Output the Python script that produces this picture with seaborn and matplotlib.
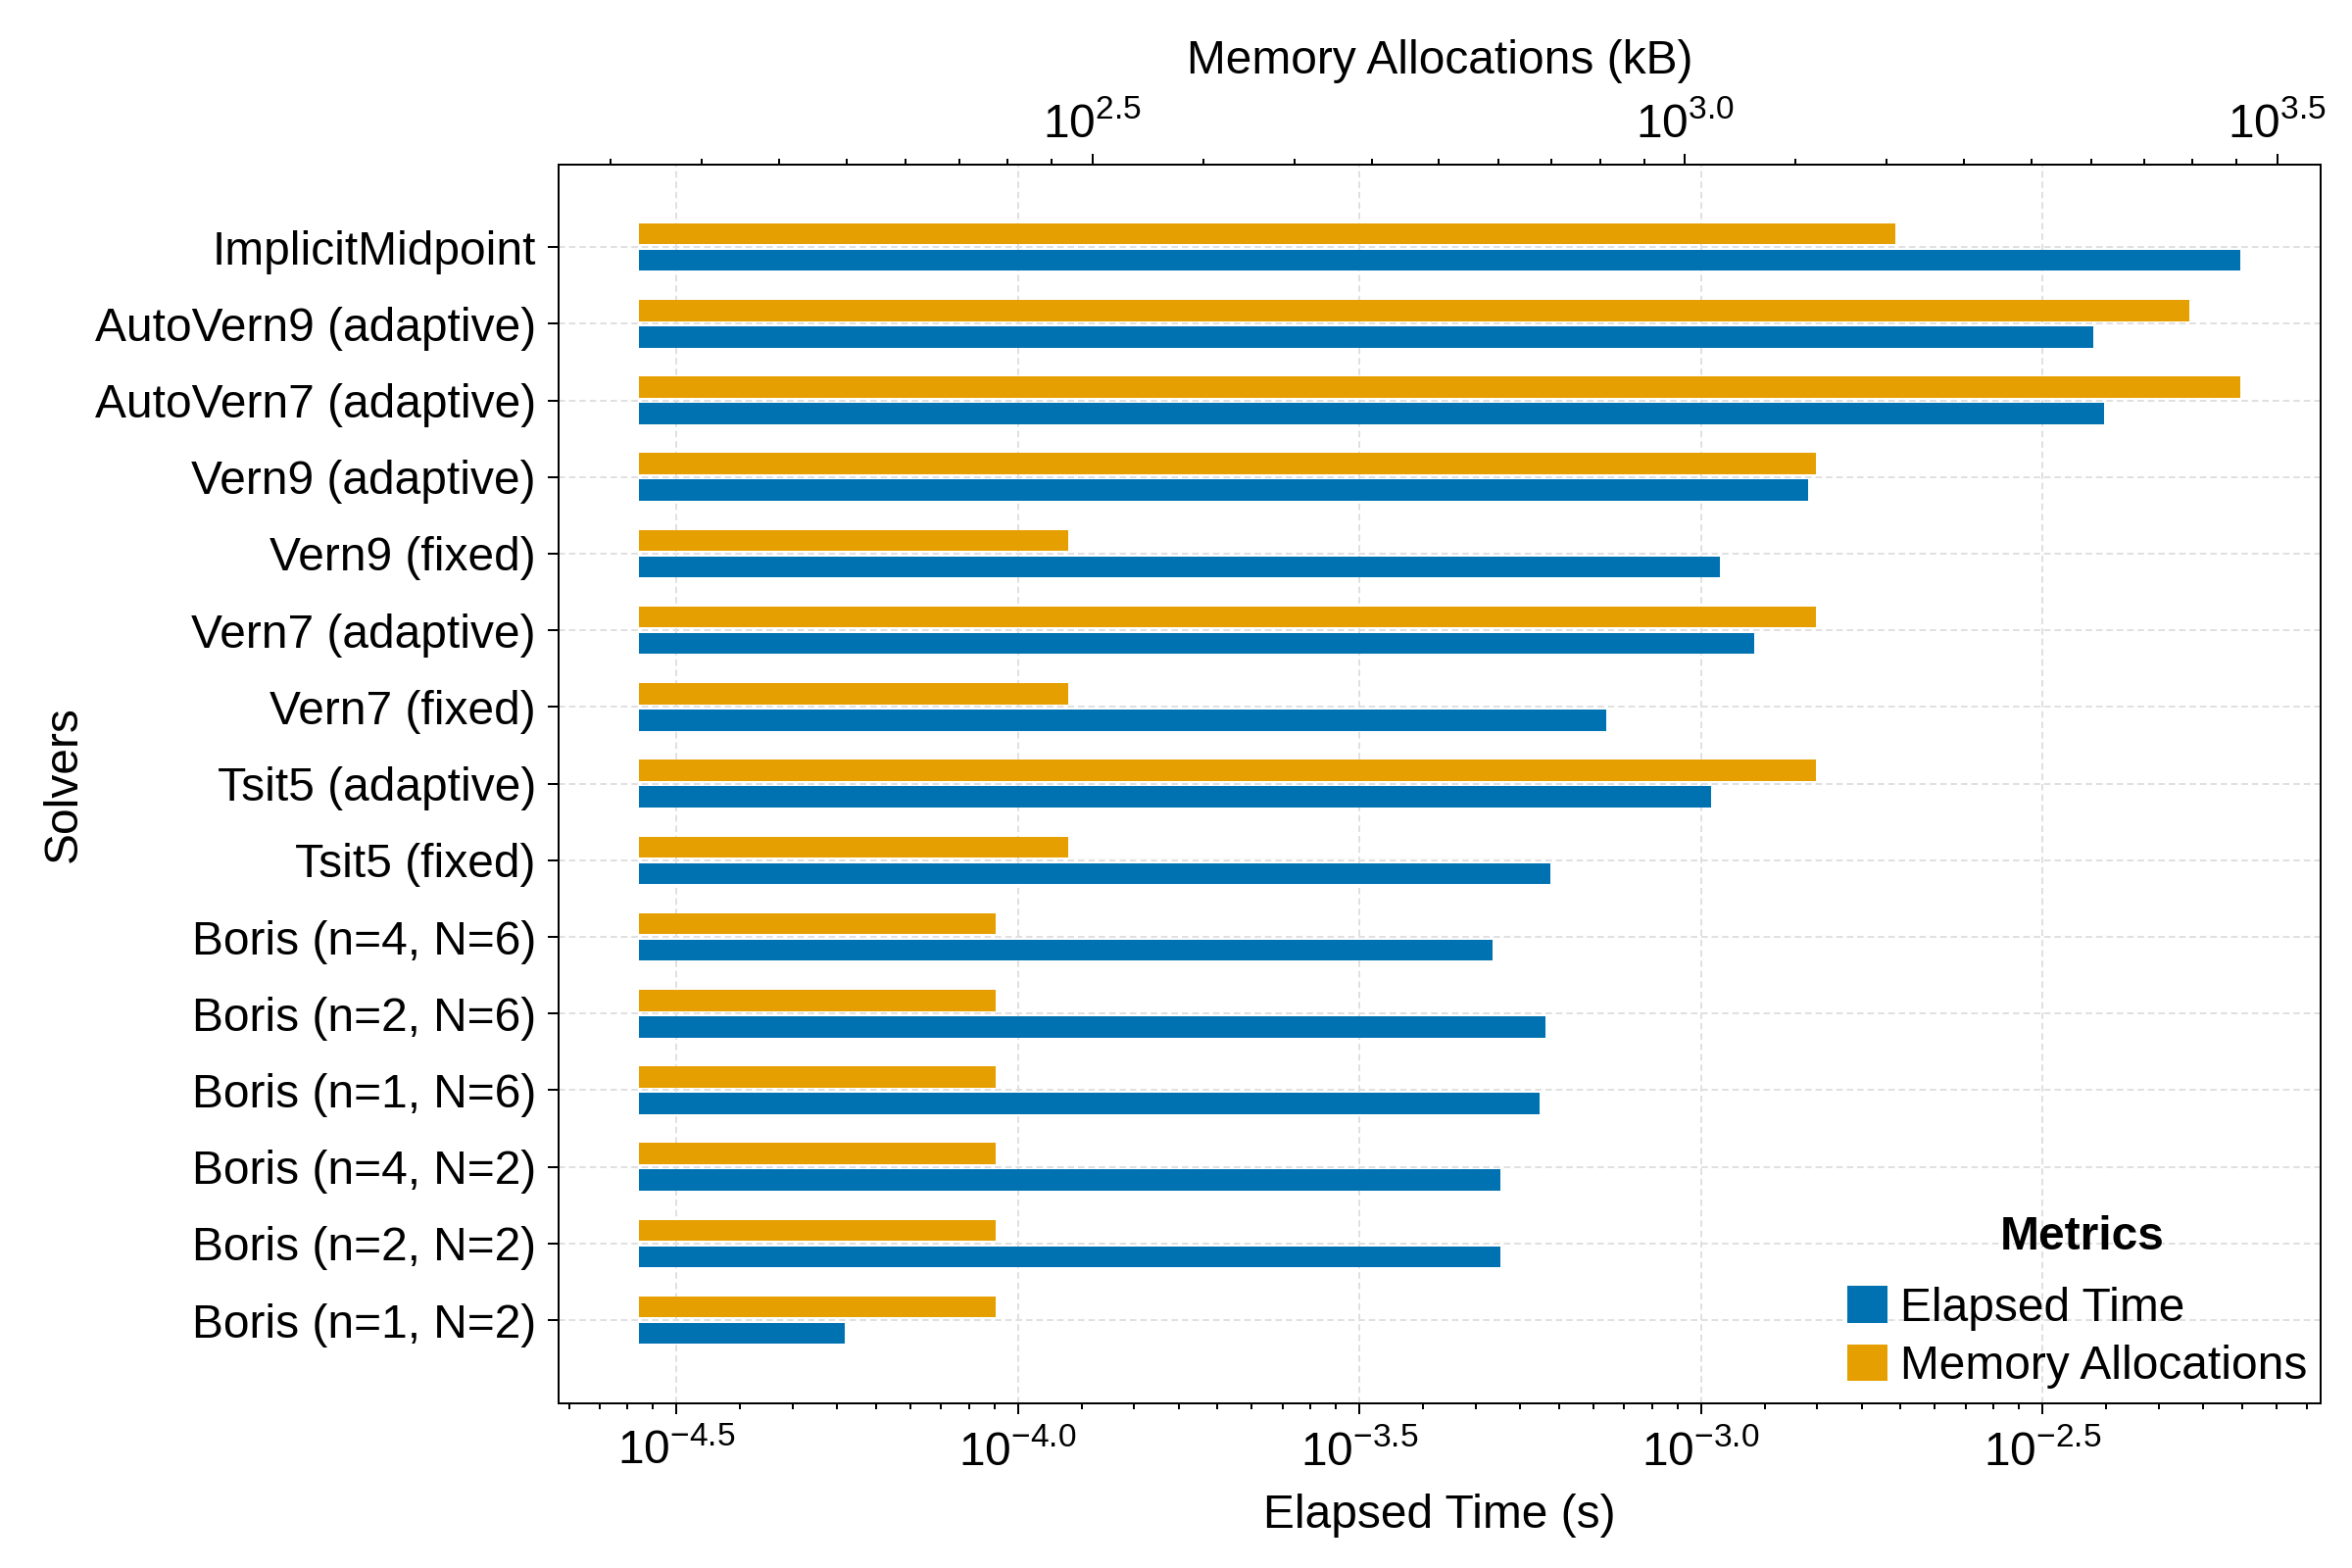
import numpy as np
import pandas as pd
import matplotlib
matplotlib.use("Agg")
import matplotlib.pyplot as plt
from matplotlib.ticker import FixedLocator, FuncFormatter, NullFormatter
from matplotlib.patches import Patch
import seaborn as sns

# data
solvers = ["ImplicitMidpoint", "AutoVern9 (adaptive)", "AutoVern7 (adaptive)",
           "Vern9 (adaptive)", "Vern9 (fixed)", "Vern7 (adaptive)", "Vern7 (fixed)",
           "Tsit5 (adaptive)", "Tsit5 (fixed)",
           "Boris (n=4, N=6)", "Boris (n=2, N=6)", "Boris (n=1, N=6)",
           "Boris (n=4, N=2)", "Boris (n=2, N=2)", "Boris (n=1, N=2)"]
elapsed_s = [6.17e-3, 3.76e-3, 3.89e-3, 1.435e-3, 1.066e-3, 1.197e-3, 7.26e-4,
             1.034e-3, 6.02e-4, 4.96e-4, 5.93e-4, 5.81e-4, 5.09e-4, 5.08e-4, 5.57e-5]
memory_kb = [1505, 2666, 2944, 1290, 302, 1290, 302, 1290, 302,
             262, 262, 262, 262, 262, 262]
metrics = ["Memory Allocations", "Elapsed Time"]   # dodge order: top, bottom
colors = {"Elapsed Time": "#0072B2", "Memory Allocations": "#E69F00"}

sns.set_style("ticks")
plt.rcParams["font.family"] = ["Liberation Sans", "DejaVu Sans"]
plt.rcParams["mathtext.fontset"] = "custom"
plt.rcParams["mathtext.rm"] = "Liberation Sans"
plt.rcParams["mathtext.it"] = "Liberation Sans:italic"
plt.rcParams["mathtext.bf"] = "Liberation Sans:bold"
for k in ["text.color", "axes.labelcolor", "xtick.color", "ytick.color", "axes.edgecolor"]:
    plt.rcParams[k] = "black"
plt.rcParams["axes.linewidth"] = 1.44
FS = 34.5
W, H = 2400, 1600

fig = plt.figure(figsize=(24, 16), dpi=100)
ax = fig.add_axes([570 / W, 1 - 1431.5 / H, (2368 - 570) / W, (1431.5 - 167.7) / H])
ax.set_xscale("log")
ax2 = ax.twiny()
ax2.set_xscale("log")

# bars start at half the smallest value (in each metric)
t_base = min(elapsed_s) / 2
m_base = min(memory_kb) / 2
df_t = pd.DataFrame({"solver": solvers, "metric": "Elapsed Time",
                     "value": np.array(elapsed_s) - t_base})
df_m = pd.DataFrame({"solver": solvers, "metric": "Memory Allocations",
                     "value": np.array(memory_kb, dtype=float) - m_base})

bar_w = 0.69
for a, d, base in [(ax, df_t, t_base), (ax2, df_m, m_base)]:
    sns.barplot(data=d, x="value", y="solver", hue="metric", hue_order=metrics,
                order=solvers, palette=colors, saturation=1, orient="h",
                width=bar_w, gap=0.2, dodge=True, errorbar=None, legend=False,
                left=base, ax=a, linewidth=0)

# limits: 5% margins in log space
def log_lims(base, vals):
    lo, hi = np.log10(base), np.log10(max(vals))
    m = 0.05 * (hi - lo)
    return 10 ** (lo - m), 10 ** (hi + m)

ax.set_xlim(*log_lims(t_base, elapsed_s))
ax2.set_xlim(*log_lims(m_base, memory_kb))
n = len(solvers)
ext = bar_w / 2
ym = 0.05 * (n - 1 + 2 * ext)
ax.set_ylim(n - 1 + ext + ym, -ext - ym)

def log_ticks(e0, e1):
    major = 10.0 ** np.arange(e0, e1 + 0.01, 0.5)
    minor = np.concatenate([np.linspace(a, b, 10)[1:-1] for a, b in zip(major[:-1], major[1:])])
    return major, minor

fmt = FuncFormatter(lambda v, p: "$10^{%.1f}$" % np.log10(v))
for a, (e0, e1) in [(ax, (-5.0, -2.0)), (ax2, (2.0, 4.0))]:
    major, minor = log_ticks(e0, e1)
    a.xaxis.set_major_locator(FixedLocator(major))
    a.xaxis.set_minor_locator(FixedLocator(minor))
    a.xaxis.set_major_formatter(fmt)
    a.xaxis.set_minor_formatter(NullFormatter())
    a.tick_params(axis="x", which="major", length=7.9, width=1.44, direction="out",
                  labelsize=FS, color="black")
    a.tick_params(axis="x", which="minor", length=4.3, width=1.44, direction="out",
                  color="black")
    for s in a.spines.values():
        s.set_visible(True)
        s.set_color("black")
        s.set_linewidth(1.44)

ax.tick_params(axis="x", which="major", pad=12)
ax2.tick_params(axis="x", which="major", pad=5)
ax.tick_params(axis="y", length=7.7, width=1.44, direction="out", labelsize=FS,
               pad=8.9, color="black")

ax.grid(True, which="major", axis="both", color="#e0e0e0",
        linestyle=(0, (3.3, 2)), linewidth=1.44)
ax.set_axisbelow(True)
ax2.grid(False)

ax.set_xlabel("Elapsed Time (s)", fontsize=FS)
ax2.set_xlabel("Memory Allocations (kB)", fontsize=FS)
ax.set_ylabel("Solvers", fontsize=FS)
ax.xaxis.set_label_coords((570 + 2368) / 2 / W, 1 - 1524 / H, transform=fig.transFigure)
ax2.xaxis.set_label_coords((570 + 2368) / 2 / W, 1 - 75 / H, transform=fig.transFigure)
ax.yaxis.set_label_coords(88 / W, 1 - 799.6 / H, transform=fig.transFigure)

handles = [Patch(facecolor=colors["Elapsed Time"], edgecolor="none"),
           Patch(facecolor=colors["Memory Allocations"], edgecolor="none")]
ax.legend(handles, ["Elapsed Time", "Memory Allocations"], fontsize=FS,
          frameon=False, loc="lower right", bbox_to_anchor=(2354 / W, 1 - 1417 / H),
          bbox_transform=fig.transFigure, borderpad=0, borderaxespad=0,
          handlelength=0.85, handleheight=0.83, handletextpad=0.27, labelspacing=0.29)
fig.text(2125 / W, 1 - 1275 / H, "Metrics", fontsize=FS, fontweight="bold",
         ha="center", va="baseline")

fig.savefig("out.png", dpi=100)
